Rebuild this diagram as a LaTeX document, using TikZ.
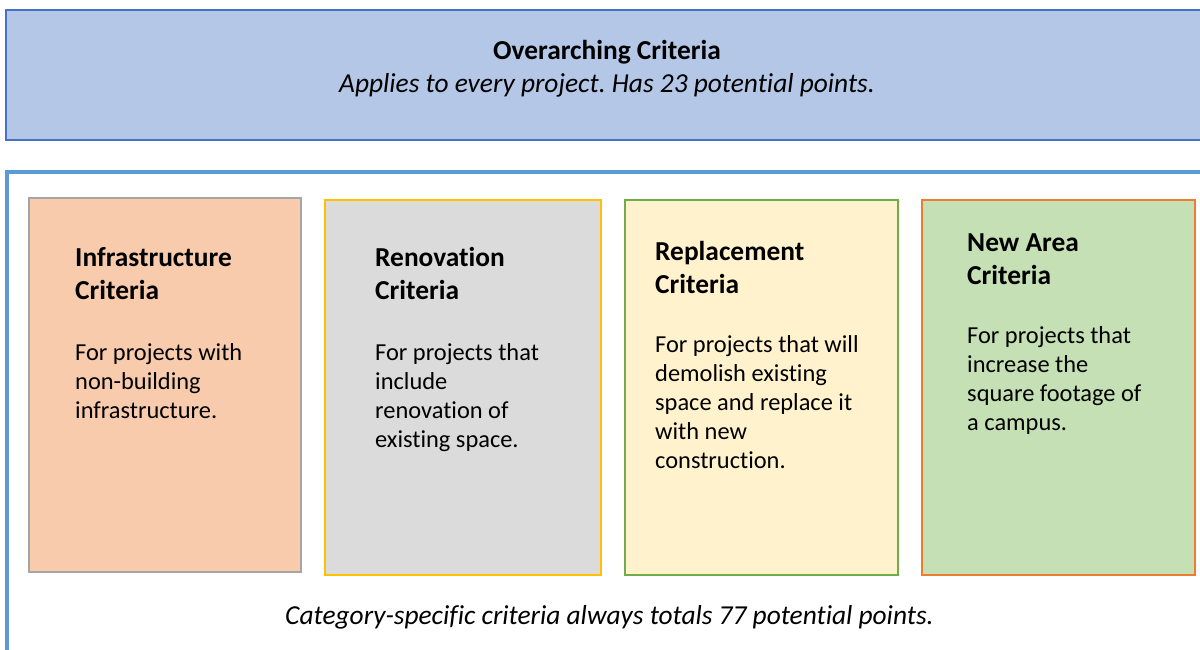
\documentclass[tikz,border=0pt]{standalone}
\usepackage{fontspec}
\setmainfont[Ligatures=NoCommon]{Carlito}
\frenchspacing
\definecolor{topfill}{HTML}{B4C7E7}
\definecolor{topdraw}{HTML}{4472C4}
\definecolor{frameblue}{HTML}{5B9BD5}
\definecolor{infill}{HTML}{F8CBAD}
\definecolor{indraw}{HTML}{A5A5A5}
\definecolor{renfill}{HTML}{DBDBDB}
\definecolor{rendraw}{HTML}{FFC000}
\definecolor{repfill}{HTML}{FFF2CC}
\definecolor{repdraw}{HTML}{70AD47}
\definecolor{newfill}{HTML}{C5E0B4}
\definecolor{newdraw}{HTML}{ED7D31}
\tikzset{
  catbox/.style={line width=1.2pt},
  ttl/.style={anchor=base west, inner sep=0pt, font=\fontsize{27.4}{32}\selectfont\bfseries},
  bdy/.style={anchor=base west, inner sep=0pt, font=\fontsize{24.4}{29}\selectfont},
  hdr/.style={anchor=base, inner sep=0pt, font=\fontsize{27.4}{32}\selectfont\bfseries},
  itl/.style={anchor=base, inner sep=0pt, font=\fontsize{27.4}{32}\selectfont\itshape},
}
\begin{document}
\begin{tikzpicture}[x=1pt,y=-1pt]
\clip (0,0) rectangle (1200,649);
\fill[white] (0,0) rectangle (1200,649);
% top box
\draw[fill=topfill, draw=topdraw, line width=1.2pt] (6,10) rectangle (1215,140);
\node[hdr] (over) at (607,59.5) {Overarching Criteria};
\node[itl] (oversub) at (607,92.5) {Applies to every project. Has 23 potential points.};
% outer frame
\draw[frameblue, line width=4pt] (6.5,700) -- (6.5,172) -- (1250,172);
% category boxes
\draw[catbox, fill=infill, draw=indraw] (29,198) rectangle (301,572);
\draw[catbox, fill=renfill, draw=rendraw] (325,200) rectangle (601,575);
\draw[catbox, fill=repfill, draw=repdraw] (625,200) rectangle (898,575);
\draw[catbox, fill=newfill, draw=newdraw] (922,200) rectangle (1195,575);
% box 1
\node[ttl] (i1) at (75,266.5) {Infrastructure};
\node[ttl] (i2) at (75,299.5) {Criteria};
\node[bdy] (i3) at (75,360.5) {For projects with};
\node[bdy] (i4) at (75,389.5) {non-building};
\node[bdy] (i5) at (75,418.5) {infrastructure.};
% box 2
\node[ttl] (r1) at (375,266.5) {Renovation};
\node[ttl] (r2) at (375,299.5) {Criteria};
\node[bdy] (r3) at (375,360.5) {For projects that};
\node[bdy] (r4) at (375,389.5) {include};
\node[bdy] (r5) at (375,418.5) {renovation of};
\node[bdy] (r6) at (375,447.5) {existing space.};
% box 3
\node[ttl] (p1) at (655,260.5) {Replacement};
\node[ttl] (p2) at (655,293.5) {Criteria};
\node[bdy] (p3) at (655,352.5) {For projects that will};
\node[bdy] (p4) at (655,381.5) {demolish existing};
\node[bdy] (p5) at (655,410.5) {space and replace it};
\node[bdy] (p6) at (655,439.5) {with new};
\node[bdy] (p7) at (655,468.5) {construction.};
% box 4
\node[ttl] (n1) at (967,251.5) {New Area};
\node[ttl] (n2) at (967,284.5) {Criteria};
\node[bdy] (n3) at (967,343.5) {For projects that};
\node[bdy] (n4) at (967,372.5) {increase the};
\node[bdy] (n5) at (967,401.5) {square footage of};
\node[bdy] (n6) at (967,430.5) {a campus.};
% bottom
\node[itl] (foot) at (609.5,624.5) {Category-specific criteria always totals 77 potential points.};
\end{tikzpicture}
\end{document}
